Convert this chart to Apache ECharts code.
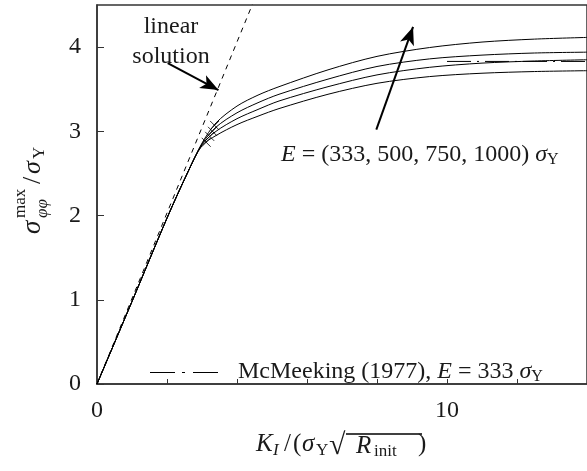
<!DOCTYPE html>
<html><head><meta charset="utf-8">
<script src="https://cdn.jsdelivr.net/npm/echarts@6/dist/echarts.min.js"></script>
<style>html,body{margin:0;padding:0;background:#fff}#c{width:587px;height:471px}</style>
</head><body><div id="c"></div>
<script>
// ---- data ----
const sharedX = [0, 1, 2, 2.6];
const sharedY = [0, 0.98, 1.97, 2.52];
const branchX = [3.0, 3.4, 4.0, 4.6, 5.2, 6.6, 8.0, 9.5, 11, 12.5, 14];
const yE1000 = [2.86, 3.10, 3.30, 3.43, 3.53, 3.73, 3.89, 3.995, 4.06, 4.095, 4.115];
const yE750  = [2.85, 3.05, 3.22, 3.34, 3.44, 3.62, 3.77, 3.86, 3.905, 3.93, 3.94];
const yE500  = [2.84, 3.00, 3.15, 3.26, 3.36, 3.53, 3.67, 3.76, 3.81, 3.835, 3.85];
const yE333  = [2.83, 2.95, 3.08, 3.18, 3.27, 3.44, 3.57, 3.65, 3.69, 3.71, 3.72];
const linearX = [0, 4.6];
const linearY = [0, 4.67];
const mcmX = [10, 14];
const mcmY = [3.83, 3.83];
const crossX = [3.36, 3.30, 3.22, 3.12];
const crossY = [3.07, 3.00, 2.94, 2.87];
const arrow1 = [[2.02, 3.81], [3.47, 3.49]];
const arrow2 = [[7.98, 3.02], [9.03, 4.24]];
const yTicks = [0, 1, 2, 3, 4];
const xTicks = [0, 2, 4, 6, 8, 10, 12, 14];
const xLabels = [0, 10];

const F = '"Liberation Serif", "DejaVu Serif", serif';
function curve(ys) {
  const d = sharedX.map((x, i) => [x, sharedY[i]]);
  branchX.forEach((x, i) => d.push([x, ys[i]]));
  return d;
}
function T(text, x, y, size, italic, extra) {
  return Object.assign({ type: 'text', x: x, y: y, style: { text: text, font: (italic ? 'italic ' : '') + size + 'px ' + F, fill: '#1a1a1a', verticalAlign: 'middle', align: 'left' } }, extra || {});
}
const lineSeries = (ys) => ({ type: 'line', data: curve(ys), smooth: 0.3, symbol: 'none', lineStyle: { color: '#000', width: 1 }, silent: true });
const arrowData = (a) => [{ coord: a[0], symbol: 'none' }, { coord: a[1], symbol: 'arrow', symbolSize: [11, 18] }];
const rich = {
  n: { fontFamily: F, fontSize: 24, fill: '#1a1a1a' },
  i: { fontFamily: F, fontSize: 24, fontStyle: 'italic', fill: '#1a1a1a' },
  s: { fontFamily: F, fontSize: 16, fill: '#1a1a1a', padding: [10, 0, 0, 0] }
};

const chart = echarts.init(document.getElementById('c'), null, { renderer: 'canvas' });
chart.setOption({
  animation: false,
  backgroundColor: '#fff',
  grid: { left: 97, top: 5, width: 493, height: 379, show: true, borderColor: '#333', borderWidth: 1.5, backgroundColor: 'transparent' },
  xAxis: {
    type: 'value', min: 0, max: 14, interval: 2,
    axisLine: { lineStyle: { color: '#333', width: 1.5 } },
    axisTick: { inside: true, length: 5, customValues: xTicks, lineStyle: { color: '#333' } },
    axisLabel: { customValues: xLabels, fontFamily: F, fontSize: 24, color: '#1a1a1a', margin: 15 },
    splitLine: { show: false }
  },
  yAxis: {
    type: 'value', min: 0, max: 4.5, interval: 1,
    axisLine: { lineStyle: { color: '#333', width: 1.5 } },
    axisTick: { inside: true, length: 7, customValues: yTicks, lineStyle: { color: '#333' } },
    axisLabel: { customValues: yTicks, fontFamily: F, fontSize: 24, color: '#1a1a1a', margin: 16 },
    splitLine: { show: false }
  },
  series: [
    lineSeries(yE1000), lineSeries(yE750), lineSeries(yE500), lineSeries(yE333),
    { type: 'line', data: linearX.map((x, i) => [x, linearY[i]]), symbol: 'none', lineStyle: { color: '#000', width: 1, type: [5, 5] }, silent: true,
      markLine: { silent: true, symbol: ['none', 'arrow'], itemStyle: { color: '#000' }, lineStyle: { color: '#000', width: 2, type: 'solid' }, label: { show: false },
        data: [arrowData(arrow1), arrowData(arrow2)] } },
    { name: 'McMeeking', type: 'line', data: mcmX.map((x, i) => [x, mcmY[i]]), symbol: 'none', itemStyle: { color: '#000' }, lineStyle: { color: '#000', width: 1, type: [24, 6, 2, 6] }, silent: true },
    { type: 'scatter', data: crossX.map((x, i) => [x, crossY[i]]), symbol: 'path://M0,0L10,10M10,0L0,10', symbolSize: 9,
      itemStyle: { color: 'none', borderColor: '#000', borderWidth: 1 }, silent: true }
  ],
  graphic: [
    { type: 'text', x: 171, y: 27, style: { text: 'linear', font: '24px ' + F, fill: '#1a1a1a', align: 'center', verticalAlign: 'middle' } },
    { type: 'text', x: 171, y: 57, style: { text: 'solution', font: '24px ' + F, fill: '#1a1a1a', align: 'center', verticalAlign: 'middle' } },
    { type: 'text', x: 281, y: 155, style: { text: '{i|E}{n| = (333, 500, 750, 1000) }{i|σ}{s|Y}', verticalAlign: 'middle', align: 'left', rich: rich } },
    // legend sample + text
    { type: 'line', shape: { x1: 150, y1: 372.5, x2: 218, y2: 372.5 }, style: { stroke: '#000', lineWidth: 1, lineDash: [25, 7, 3, 8] } },
    { type: 'text', x: 238, y: 372, style: { text: '{n|McMeeking (1977), }{i|E}{n| = 333 }{i|σ}{s|Y}', verticalAlign: 'middle', align: 'left', rich: rich } },
    // x-axis title
    T('K', 256, 444, 25, true), T('I', 273, 451, 17, true), T('/', 284, 444, 25, false), T('(', 293, 444, 25, false),
    T('σ', 302, 444, 25, true), T('Y', 316, 451, 17, false),
    T('√', 329, 446, 30, false), { type: 'line', shape: { x1: 346, y1: 434, x2: 422, y2: 434 }, style: { stroke: '#000', lineWidth: 1.5 } },
    T('R', 356, 446, 25, true), T('init', 374, 452, 17, false), T(')', 418, 444, 25, false),
    // y-axis title (rotated)
    { type: 'group', x: 33, y: 234, rotation: Math.PI / 2, children: [
      T('σ', 0, 0, 27, true), T('max', 16, -12, 17, false), T('φφ', 16, 10, 17, true), T('/', 50, 0, 26, false), T('σ', 60, 0, 26, true), T('Y', 75, 7, 17, false)
    ] }
  ]
});
</script></body></html>
